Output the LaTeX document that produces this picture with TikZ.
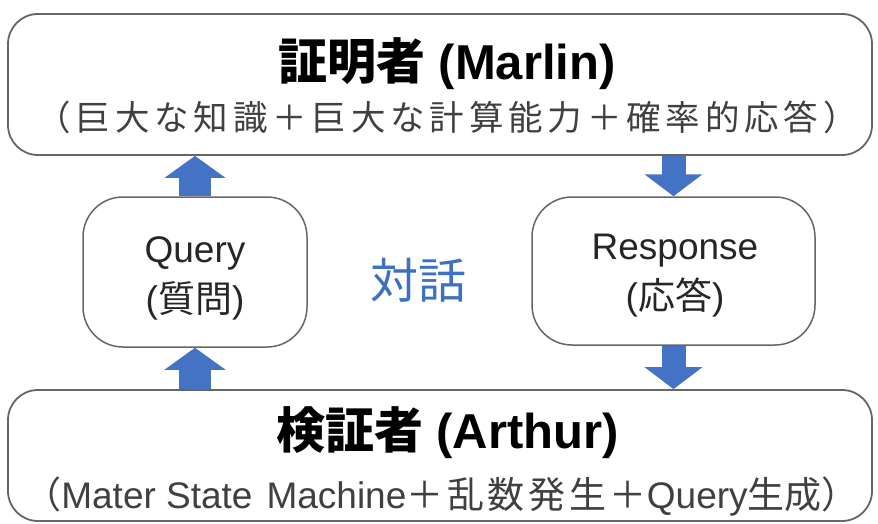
\documentclass[tikz,border=0pt]{standalone}
\usepackage{fontspec}
\setmainfont{Liberation Sans}
\newfontfamily\jp{Noto Sans CJK JP}
\newfontfamily\jpsp[LetterSpace=14]{Noto Sans CJK JP}
\newfontfamily\jpspb[LetterSpace=10]{Noto Sans CJK JP}
\usetikzlibrary{arrows.meta}
\definecolor{arrowblue}{HTML}{4472C4}
\definecolor{txtblue}{HTML}{3B70C2}
\definecolor{boxgray}{HTML}{666666}
\definecolor{subgray}{HTML}{404040}
\definecolor{txtdark}{HTML}{262626}
\begin{document}
\begin{tikzpicture}[x=1pt,y=-1pt,
  bigbox/.style={draw=boxgray,line width=1.8pt,rounded corners=30pt,fill=white},
  smallbox/.style={draw=boxgray,line width=1.5pt,rounded corners=40pt,fill=white},
  boxtext/.style={align=center,text=txtdark,font=\fontsize{37}{50}\selectfont},
  widearrow/.style={draw=arrowblue,line width=32pt,-{Triangle[length=22pt,width=60pt]}},
  narrowarrow/.style={draw=arrowblue,line width=24pt,-{Triangle[length=22pt,width=57pt]}},
  titletext/.style={anchor=base,text=black,font=\fontsize{49}{49}\selectfont\bfseries},
  subtext/.style={anchor=base,text=subgray}]
\useasboundingbox (0,0) rectangle (878,524);
% main boxes
\node[bigbox,minimum width=864pt,minimum height=141pt] (prover) at (440,84.5) {};
\node[bigbox,minimum width=864pt,minimum height=131pt] (verifier) at (440,455.5) {};
% dialogue boxes
\node[smallbox,minimum width=224pt,minimum height=150pt] (query) at (195,272) {};
\node[smallbox,minimum width=283pt,minimum height=148pt] (response) at (673.5,271) {};
\node[boxtext] (qtext) at (195,278) {Query\\({\jp 質問})};
\node[boxtext] (rtext) at (675,276) {Response\\({\jp 応答})};
% texts
\node[titletext] (ptitle) at (447,80) {{\jp 証明者} (Marlin)};
\node[subtext,font=\jpsp\fontsize{34.5}{34.5}\selectfont] (psub) at (447,131) {（巨大な知識＋巨大な計算能力＋確率的応答）};
\node[titletext] (vtitle) at (447.5,448) {{\jp 検証者} (Arthur)};
\node[subtext,font=\fontsize{37}{37}\selectfont] (vsub) at (441.5,508) {{\jp （}Mater State\hspace{14pt}Machine{\jpspb ＋乱数発生＋}Query{\jp 生成）}};
\node[text=txtblue,font=\jp\fontsize{48}{48}\selectfont] (dialog) at (418,280) {対話};
% arrows
\draw[widearrow] (query.north) -- (query.north |- prover.south);
\draw[widearrow] (query.south |- verifier.north) -- (query.south);
\draw[narrowarrow] (response.north |- prover.south) -- (response.north);
\draw[narrowarrow] (response.south) -- (response.south |- verifier.north);
\end{tikzpicture}
\end{document}
